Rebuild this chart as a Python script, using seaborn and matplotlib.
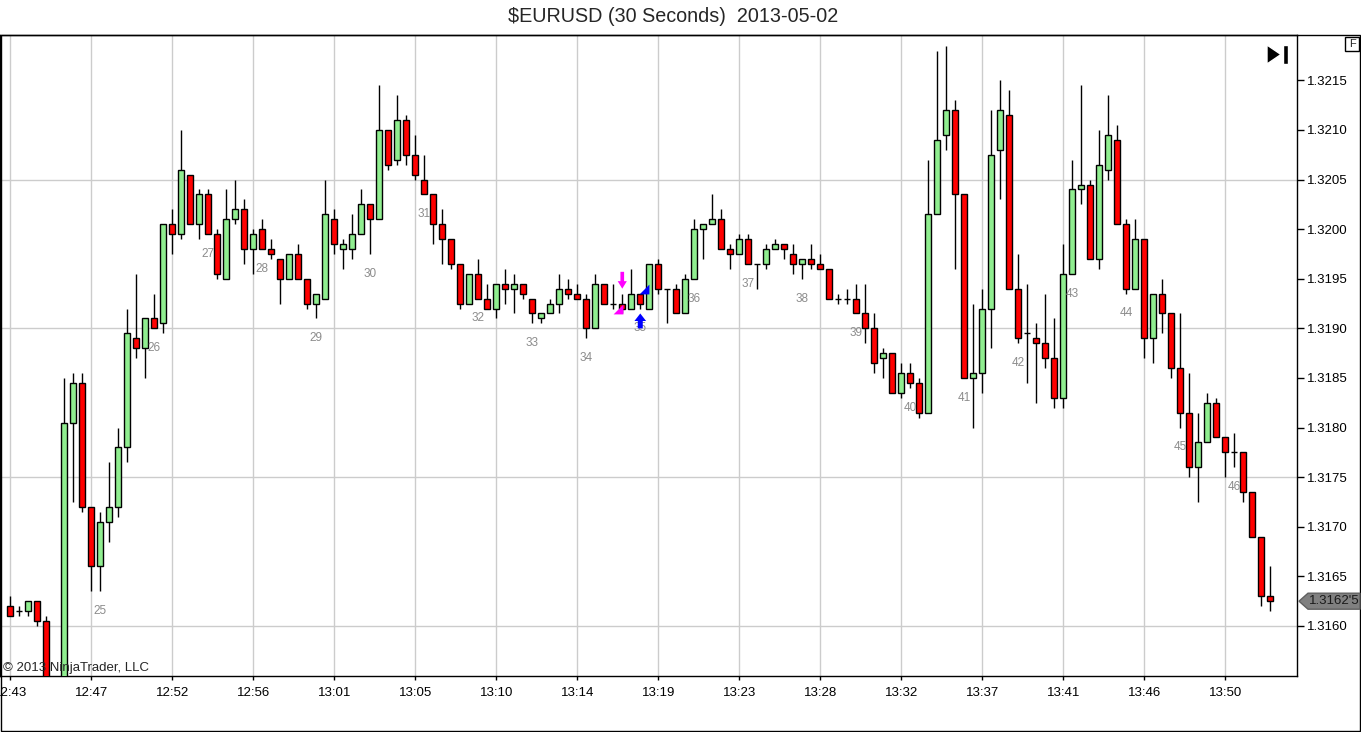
import numpy as np
import pandas as pd
import matplotlib
matplotlib.use("Agg")
import matplotlib.pyplot as plt
import seaborn as sns
from matplotlib.patches import Polygon, Rectangle

# 30 second bars, $EURUSD 2013-05-02
opens = [1.3162, 1.31615, 1.31615, 1.31625, 1.31605, 1.3152, 1.3153, 1.31805, 1.31845, 1.3172,
         1.3166, 1.31705, 1.3172, 1.3178, 1.3189, 1.3188, 1.3191, 1.31905, 1.32005, 1.31995,
         1.32055, 1.32005, 1.32035, 1.31995, 1.3195, 1.3201, 1.3202, 1.3198, 1.3200, 1.3198,
         1.3197, 1.3195, 1.31975, 1.3195, 1.31925, 1.3193, 1.3201, 1.3198, 1.3198, 1.31995,
         1.32025, 1.3201, 1.3210, 1.3207, 1.3211, 1.32075, 1.3205, 1.32035, 1.32005, 1.3199,
         1.31965, 1.31925, 1.31955, 1.3193, 1.3192, 1.31945, 1.3194, 1.31945, 1.3193, 1.3191,
         1.31915, 1.31925, 1.3194, 1.31935, 1.3193, 1.3190, 1.31945, 1.31925, 1.31925, 1.3192,
         1.31935, 1.3192, 1.31965, 1.3194, 1.3194, 1.31915, 1.3195, 1.3200, 1.32005, 1.3201,
         1.3198, 1.31975, 1.3199, 1.31965, 1.31965, 1.3198, 1.31985, 1.31975, 1.31965, 1.3197,
         1.31965, 1.3196, 1.3193, 1.3193, 1.3193, 1.31915, 1.3190, 1.3187, 1.31875, 1.31835,
         1.31855, 1.31845, 1.31815, 1.32015, 1.32095, 1.3212, 1.32035, 1.3185, 1.31855, 1.3192,
         1.3208, 1.32115, 1.3194, 1.31895, 1.3189, 1.31885, 1.3187, 1.3183, 1.31955, 1.3204,
         1.32045, 1.3197, 1.3206, 1.3209, 1.32005, 1.3194, 1.3199, 1.3189, 1.31935, 1.31915,
         1.3186, 1.31815, 1.3176, 1.31785, 1.31825, 1.3179, 1.31775, 1.31775, 1.31735, 1.3169,
         1.3163]
highs = [1.3163, 1.3162, 1.31625, 1.31625, 1.3161, 1.31545, 1.3185, 1.31855, 1.31855, 1.3172,
         1.31715, 1.31765, 1.3180, 1.3192, 1.31955, 1.3191, 1.31935, 1.32005, 1.3202, 1.3210,
         1.32055, 1.3204, 1.3204, 1.3200, 1.3204, 1.3205, 1.3203, 1.3200, 1.3201, 1.3199,
         1.3197, 1.31975, 1.31985, 1.3195, 1.31935, 1.3205, 1.3202, 1.3199, 1.32015, 1.3204,
         1.32025, 1.32145, 1.3210, 1.32135, 1.32115, 1.32095, 1.32075, 1.32035, 1.3202, 1.3199,
         1.31965, 1.31955, 1.3197, 1.31945, 1.31945, 1.3196, 1.31955, 1.31945, 1.3193, 1.31915,
         1.3193, 1.31955, 1.3195, 1.31945, 1.31935, 1.31955, 1.31945, 1.31945, 1.31935, 1.3196,
         1.31935, 1.31965, 1.3197, 1.3194, 1.31945, 1.31955, 1.3201, 1.32005, 1.32035, 1.3202,
         1.31985, 1.31995, 1.31995, 1.31965, 1.31985, 1.3199, 1.31985, 1.31985, 1.3197, 1.31985,
         1.31975, 1.3196, 1.31935, 1.3194, 1.31945, 1.31945, 1.31915, 1.3188, 1.31875, 1.31865,
         1.31865, 1.3185, 1.3207, 1.3218, 1.32185, 1.3213, 1.32035, 1.31925, 1.3194, 1.3212,
         1.3215, 1.3214, 1.31975, 1.31945, 1.31905, 1.31935, 1.3191, 1.31985, 1.3207, 1.32145,
         1.3205, 1.3210, 1.32135, 1.32105, 1.3201, 1.3201, 1.3199, 1.31935, 1.3195, 1.31915,
         1.31915, 1.31855, 1.31815, 1.31835, 1.3183, 1.3179, 1.31795, 1.31775, 1.31735, 1.3169,
         1.3166]
lows = [1.3161, 1.3161, 1.3161, 1.3160, 1.3152, 1.3150, 1.31525, 1.31725, 1.31715, 1.31635,
        1.31635, 1.31685, 1.3171, 1.31765, 1.3187, 1.3185, 1.3190, 1.31895, 1.31975, 1.3199,
        1.32005, 1.3199, 1.31995, 1.3195, 1.3195, 1.32005, 1.31965, 1.31955, 1.3198, 1.3197,
        1.31925, 1.3195, 1.3195, 1.3192, 1.3191, 1.3193, 1.31975, 1.3196, 1.3197, 1.31995,
        1.31975, 1.3201, 1.3206, 1.32065, 1.32065, 1.3205, 1.32035, 1.31985, 1.31965, 1.3196,
        1.3192, 1.31925, 1.3193, 1.3192, 1.3191, 1.31925, 1.31915, 1.3193, 1.31905, 1.31905,
        1.31915, 1.31915, 1.3193, 1.3193, 1.3189, 1.3190, 1.31925, 1.3192, 1.31915, 1.3192,
        1.3192, 1.3192, 1.31935, 1.31905, 1.31915, 1.31915, 1.3195, 1.3197, 1.32005, 1.3198,
        1.3196, 1.31975, 1.31965, 1.3194, 1.3196, 1.3198, 1.3197, 1.31955, 1.3195, 1.3196,
        1.3196, 1.3193, 1.31925, 1.31925, 1.31915, 1.31885, 1.31855, 1.3185, 1.31835, 1.3183,
        1.3184, 1.3181, 1.31815, 1.32015, 1.3208, 1.3196, 1.3185, 1.3180, 1.31835, 1.3188,
        1.3203, 1.3194, 1.31885, 1.31845, 1.31825, 1.3186, 1.3182, 1.3182, 1.31955, 1.32025,
        1.3197, 1.3196, 1.3205, 1.32005, 1.31935, 1.3194, 1.3187, 1.31865, 1.31895, 1.3185,
        1.3180, 1.3175, 1.31725, 1.31785, 1.3179, 1.3175, 1.3176, 1.31725, 1.3169, 1.3162,
        1.31615]
closes = [1.3161, 1.31615, 1.31625, 1.31605, 1.3153, 1.3153, 1.31805, 1.31845, 1.3172, 1.3166,
          1.31705, 1.3172, 1.3178, 1.31895, 1.3188, 1.3191, 1.3190, 1.32005, 1.31995, 1.3206,
          1.32005, 1.32035, 1.31995, 1.31955, 1.3201, 1.3202, 1.3198, 1.31995, 1.3198, 1.31975,
          1.3195, 1.31975, 1.3195, 1.31925, 1.31935, 1.32015, 1.31985, 1.31985, 1.31995, 1.32025,
          1.3201, 1.3210, 1.32065, 1.3211, 1.32075, 1.32055, 1.32035, 1.32005, 1.3199, 1.31965,
          1.31925, 1.31955, 1.3193, 1.3192, 1.31945, 1.3194, 1.31945, 1.31935, 1.31915, 1.31915,
          1.31925, 1.3194, 1.31935, 1.3193, 1.3190, 1.31945, 1.31925, 1.31925, 1.3192, 1.31935,
          1.31925, 1.31965, 1.3194, 1.3194, 1.31915, 1.3195, 1.3200, 1.32005, 1.3201, 1.3198,
          1.31975, 1.3199, 1.31965, 1.31965, 1.3198, 1.31985, 1.3198, 1.31965, 1.3197, 1.31965,
          1.3196, 1.3193, 1.3193, 1.3193, 1.31915, 1.3190, 1.31865, 1.31875, 1.31835, 1.31855,
          1.31845, 1.31815, 1.32015, 1.3209, 1.3212, 1.32035, 1.3185, 1.31855, 1.3192, 1.32075,
          1.3212, 1.3194, 1.3189, 1.31895, 1.31885, 1.3187, 1.3183, 1.31955, 1.3204, 1.32045,
          1.3197, 1.32065, 1.32095, 1.32005, 1.3194, 1.3199, 1.3189, 1.31935, 1.31915, 1.3186,
          1.31815, 1.3176, 1.31785, 1.31825, 1.3179, 1.31775, 1.31775, 1.31735, 1.3169, 1.3163,
          1.31625]

time_labels = ["12:43", "12:47", "12:52", "12:56", "13:01", "13:05", "13:10", "13:14",
               "13:19", "13:23", "13:28", "13:32", "13:37", "13:41", "13:46", "13:50"]
bars_per_label = 9
first_numbered_bar = 10
first_bar_number = 25
number_every = 6

# executions: (bar, side)
exec_bars = [68, 70]
exec_sides = ["sell", "buy"]

df = pd.DataFrame({"open": opens, "high": highs, "low": lows, "close": closes})
df["bar"] = np.arange(len(df))
df["up"] = df["close"] >= df["open"]

sns.set_style("white")
plt.rcParams['font.family'] = ['Liberation Sans', 'DejaVu Sans']

W, H = 1361, 732
fig = plt.figure(figsize=(W / 100, H / 100), dpi=100)
ax = fig.add_axes([0, (H - 676) / H, 1297 / W, (676 - 35) / H])

def fx(px):
    return px / W

def fy(py):
    return 1 - py / H

# grid
tick_pos = np.arange(len(time_labels)) * bars_per_label
for t in tick_pos:
    ax.axvline(t, color="#cccccc", lw=1, zorder=0)
for g in [1.3160, 1.3175, 1.3190, 1.3205]:
    ax.axhline(g, color="#cccccc", lw=1, zorder=0)

# wicks
ax.vlines(df["bar"], df["low"], df["high"], color="black", lw=1, zorder=2)

# bodies
colors = np.where(df["up"], "#90ee90", "#ff0000")
bottoms = df[["open", "close"]].min(axis=1)
heights = (df["open"] - df["close"]).abs()
ax.bar(df["bar"], heights, bottom=bottoms, width=0.66, color=colors,
       edgecolor="black", linewidth=1, zorder=3)

# bar numbers under lows
for k, i in enumerate(range(first_numbered_bar, len(df), number_every)):
    ax.text(i, df["low"][i] - 0.0002, str(first_bar_number + k), ha="center", va="center",
            fontsize=8.5, color="#8c8c8c", zorder=4)

# executions
for b, side in zip(exec_bars, exec_sides):
    if side == "sell":
        top = df["high"][b] + 0.00022
        ax.annotate("", xy=(b, df["high"][b] + 0.00005), xytext=(b, top),
                    arrowprops=dict(arrowstyle="simple,head_length=0.45,head_width=0.55,tail_width=0.22",
                                    color="#ff00ff", lw=0, mutation_scale=12,
                                    shrinkA=0, shrinkB=0), zorder=5)
        ax.scatter([b - 0.45], [df["low"][b] + 0.00005], marker=[(-1, -1), (1, 1), (1, -1)],
                   s=50, color="#ff00ff", zorder=5, linewidths=0)
    else:
        bot = df["low"][b] - 0.0002
        ax.annotate("", xy=(b, df["low"][b] - 0.00005), xytext=(b, bot),
                    arrowprops=dict(arrowstyle="simple,head_length=0.45,head_width=0.7,tail_width=0.3",
                                    color="#0000ff", lw=0, mutation_scale=12,
                                    shrinkA=0, shrinkB=0), zorder=5)
        ax.scatter([b + 0.4], [df["high"][b] + 0.00005], marker=[(-1, -1), (1, 1), (1, -1)],
                   s=50, color="#0000ff", zorder=5, linewidths=0)

ax.set_xlim(-1.14, 142.97)
ax.set_ylim(1.315496, 1.321957)

ax.set_xticks(tick_pos)
ax.set_xticklabels(time_labels)
ax.yaxis.tick_right()
ax.set_yticks(np.arange(1.3160, 1.32151, 0.0005))
ax.yaxis.set_major_formatter(matplotlib.ticker.FormatStrFormatter("%.4f"))
ax.tick_params(axis="y", direction="out", length=5, width=1, pad=2, labelsize=9.5,
               colors="black", right=True, left=False)
ax.tick_params(axis="x", direction="out", length=3, width=1, pad=5, labelsize=9.5,
               colors="black", bottom=True)
for s in ax.spines.values():
    s.set_color("black")
    s.set_linewidth(1)

# outer frame
fig.patches.append(Rectangle((fx(0.5), fy(731)), fx(1359.5), fy(35) - fy(731),
                             transform=fig.transFigure, fill=False, edgecolor="black", lw=1))

fig.text(fx(673), fy(17), "\\$EURUSD (30 Seconds)  2013-05-02", ha="center", va="center",
         fontsize=14.2)
fig.text(fx(3), fy(668), "\u00a9 2013 NinjaTrader, LLC", ha="left", va="center",
         fontsize=9.5, zorder=10)

# last price tag
fig.canvas.draw()
last = df["close"].iloc[-1]
yl = ax.transData.transform((0, last))[1] / fig.bbox.height
hh = 8 / H
tag = Polygon([(fx(1299), yl), (fx(1308), yl + hh), (fx(1360), yl + hh), (fx(1360), yl - hh),
               (fx(1308), yl - hh)], closed=True, transform=fig.transFigure,
              facecolor="#808080", edgecolor="#606060", lw=1)
fig.patches.append(tag)
whole = np.floor(last * 1e4 + 1e-6) / 1e4
frac = int(round((last - whole) * 1e5))
fig.text(fx(1334), yl, f"{whole:.4f}'{frac}", ha="center", va="center", fontsize=9.5,
         color="#1a1a1a")

# "go to end" icon and F box
fig.patches.append(Polygon([(fx(1267), fy(45)), (fx(1267), fy(64)), (fx(1281), fy(54.5))],
                           closed=True, transform=fig.transFigure, facecolor="black"))
fig.patches.append(Rectangle((fx(1283), fy(64)), fx(4.5), fy(45) - fy(64),
                             transform=fig.transFigure, facecolor="black"))
fig.patches.append(Rectangle((fx(1345), fy(51)), fx(14), fy(37) - fy(51),
                             transform=fig.transFigure, fill=False, edgecolor="black", lw=1))
fig.text(fx(1352), fy(44), "F", ha="center", va="center", fontsize=8)

fig.savefig("out.png", dpi=100)
